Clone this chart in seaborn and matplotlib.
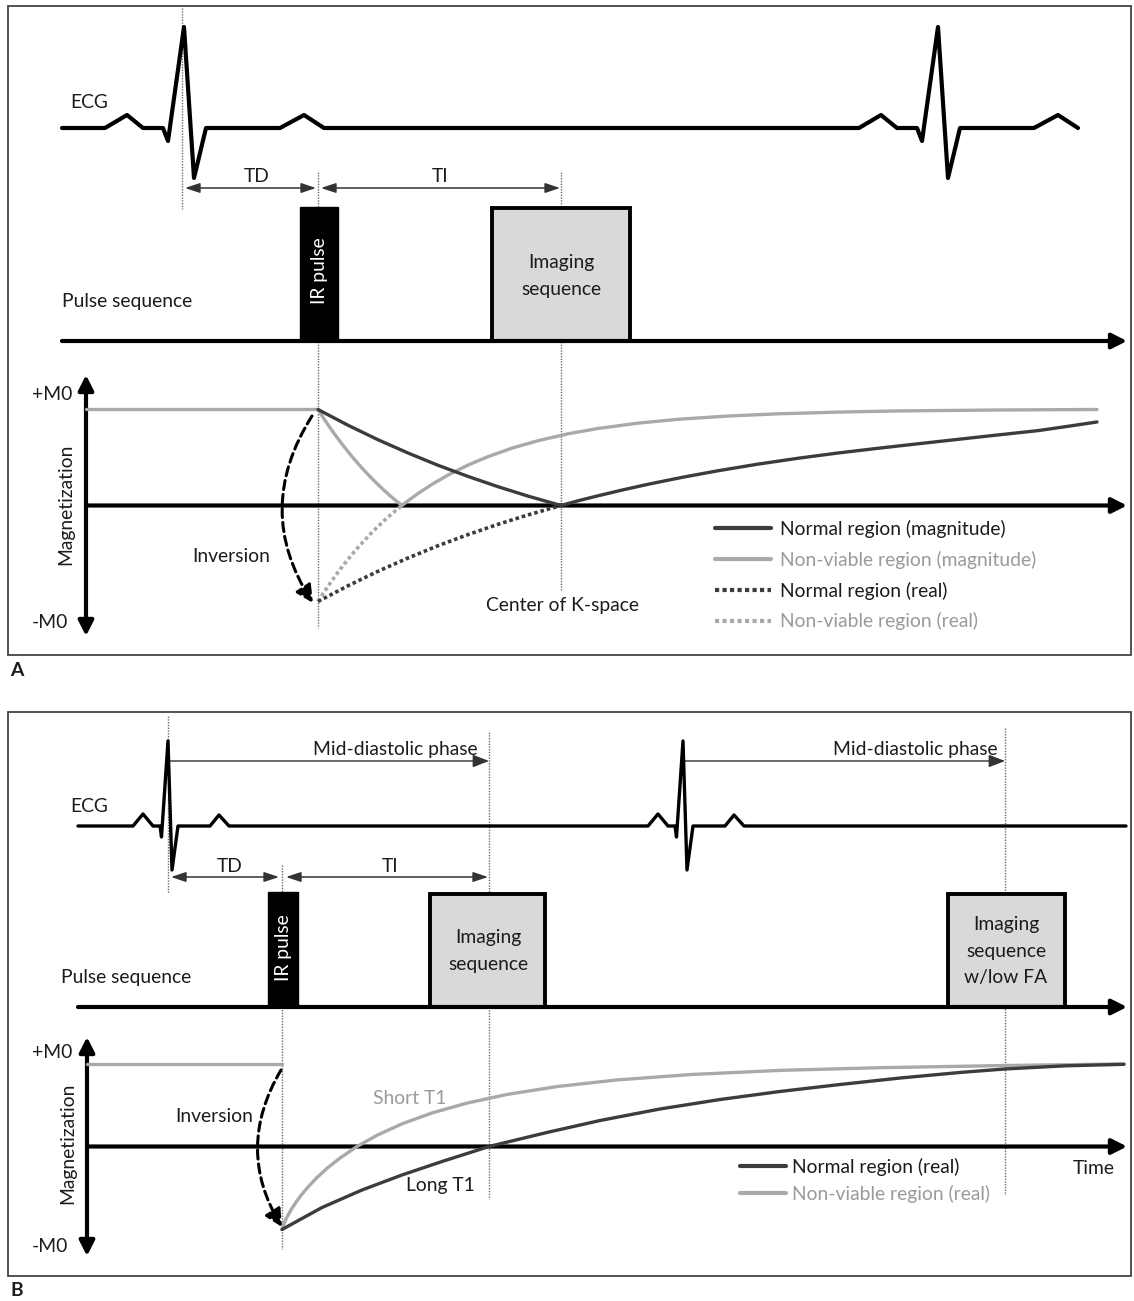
import numpy as np
import pandas as pd
import matplotlib
matplotlib.use("Agg")
import matplotlib.pyplot as plt
from matplotlib import font_manager as fm
from matplotlib.textpath import TextPath
from matplotlib.patches import Rectangle, FancyArrowPatch
import seaborn as sns

# ---------------- data ----------------
# ECG beat template: time offset from the R peak, amplitude (arbitrary units)
ecg_a_dt = [-79, -57, -41, -21, -16, 0, 10, 22, 96, 120, 140]
ecg_a_amp = [0, 13, 0, 0, -13, 101, -50, 0, 0, 13, 0]
ecg_a_r = [184, 938]
ecg_a_span = [62, 1078]

ecg_b_dt = [-35, -25, -15, -8, -6.5, 0, 4, 10, 42, 51, 61]
ecg_b_amp = [0, 12, 0, 0, -11, 85, -44, 0, 0, 11, 0]
ecg_b_r = [168, 683]
ecg_b_span = [78, 1126]

# Panel A magnetization: time after IR pulse, M / M0
a_pre_t = [-232, 0]
a_pre_m = [1, 1]
a_norm_mag_t = [0, 30, 60, 90, 120, 150, 180, 210, 243, 260, 280, 305, 330, 365, 400, 440,
                480, 520, 560, 600, 640, 680, 720, 750, 779]
a_norm_mag_m = [1, 0.836, 0.685, 0.547, 0.419, 0.303, 0.196, 0.098, 0, 0.049, 0.101, 0.163,
                0.221, 0.295, 0.362, 0.431, 0.492, 0.547, 0.596, 0.643, 0.689, 0.735, 0.78,
                0.825, 0.87]
a_nv_mag_t = [0, 5, 10, 15, 20, 25, 30, 37, 45, 52, 60, 66, 72, 78, 84, 90, 100, 115, 130, 150,
              170, 195, 220, 250, 280, 320, 360, 410, 460, 520, 580, 682, 779]
a_nv_mag_m = [1, 0.919, 0.841, 0.767, 0.695, 0.627, 0.561, 0.473, 0.379, 0.301, 0.218, 0.159,
              0.103, 0.050, 0, 0.049, 0.125, 0.227, 0.317, 0.421, 0.509, 0.601, 0.675, 0.747,
              0.802, 0.858, 0.898, 0.932, 0.955, 0.973, 0.985, 0.995, 1.0]
a_norm_real_t = [0, 30, 60, 90, 120, 150, 180, 210, 243]
a_norm_real_m = [-1, -0.836, -0.685, -0.547, -0.419, -0.303, -0.196, -0.098, 0]
a_nv_real_t = [0, 5, 10, 15, 20, 25, 30, 37, 45, 52, 60, 66, 72, 78, 84]
a_nv_real_m = [-1, -0.919, -0.841, -0.767, -0.695, -0.627, -0.561, -0.473, -0.379, -0.301,
               -0.218, -0.159, -0.103, -0.050, 0]

# Panel B magnetization (real)
b_pre_t = [-195, 0]
b_pre_m = [1, 1]
b_norm_t = [0, 40, 80, 120, 160, 207, 265, 318, 378, 438, 498, 558, 618, 678, 723, 783, 842]
b_norm_m = [-1, -0.735, -0.524, -0.343, -0.181, 0, 0.169, 0.313, 0.452, 0.566, 0.663, 0.747,
            0.825, 0.892, 0.934, 0.972, 0.99]
b_nv_t = [0, 3, 6, 10, 15, 20, 27, 35, 45, 58, 75, 95, 120, 150, 185, 225, 275, 335, 410, 500,
          600, 720, 842]
b_nv_m = [-1, -0.899, -0.827, -0.744, -0.654, -0.574, -0.475, -0.374, -0.263, -0.139, 0,
          0.135, 0.273, 0.404, 0.523, 0.627, 0.722, 0.802, 0.868, 0.918, 0.950, 0.975, 0.995]

legend_a_labels = ["Normal region (magnitude)", "Non-viable region (magnitude)",
                   "Normal region (real)", "Non-viable region (real)"]
legend_b_labels = ["Normal region (real)", "Non-viable region (real)"]

# ---------------- style ----------------
sns.set_theme(style="white")

# choose the installed sans face whose width/cap-height ratio is closest to the reference
REF_W, REF_CAP = 226.0, 14.0
bases = ["DejaVu Sans", "Liberation Sans", "Noto Sans", "Roboto", "Open Sans", "Lato", "Inter"]
bad = ["Mono", "CJK", "Math", "Symbol", "Display", "Serif"]
best = None
for f in fm.fontManager.ttflist:
    if f.style != "normal" or f.weight not in (400, "normal", "regular"):
        continue
    if not any(f.name.startswith(b) for b in bases) or any(k in f.name for k in bad):
        continue
    if not (f.name in bases or "Condensed" in f.name or "Narrow" in f.name
            or str(f.stretch) != "normal"):
        continue
    try:
        prop = fm.FontProperties(fname=f.fname)
        wd = TextPath((0, 0), "Normal region (magnitude)", size=100, prop=prop).get_extents().width
        cp = TextPath((0, 0), "H", size=100, prop=prop).get_extents().height
    except Exception:
        continue
    score = abs(np.log((wd / cp) / (REF_W / REF_CAP)))
    if best is None or score < best[0]:
        best = (score, f.name, str(f.stretch))
FONT, STRETCH = ("Roboto", "normal") if best is None else (best[1], best[2])
plt.rcParams["font.family"] = [FONT, "DejaVu Sans"]
plt.rcParams["font.stretch"] = STRETCH
has_bold = any(f.name == FONT and str(f.weight) in ("700", "bold", "600", "semibold")
               for f in fm.fontManager.ttflist)
LABEL_FONT = [FONT] if has_bold else ["DejaVu Sans"]

DARK = "#3c3c3c"
GRAY = "#a9a9a9"
TXT = "#1c1c1c"
TXT_GRAY = "#9a9a9a"

W, H = 1134, 1301
fig = plt.figure(figsize=(W / 100, H / 100), dpi=100)
fig.patch.set_facecolor("white")

renderer = fig.canvas.get_renderer()
_probe = fig.text(0, 0, "Normal region (magnitude)", fontsize=10)
_w = _probe.get_window_extent(renderer=renderer).width
_probe.remove()
FS = 10 * REF_W / _w
FS_PX = FS * 100 / 72.0

ax = fig.add_axes([0, 0, 1, 1])
ax.set_xlim(0, W)
ax.set_ylim(H, 0)
ax.axis("off")


def px_axes(x0, x1, ytop, ybot, xlim, ylim):
    a = fig.add_axes([x0 / W, 1 - ybot / H, (x1 - x0) / W, (ybot - ytop) / H])
    a.set_xlim(*xlim)
    a.set_ylim(*ylim)
    a.axis("off")
    return a


def arrow(p0, p1, style, ms, lw, color="black", ls="-", rad=0.0, z=3):
    p = FancyArrowPatch(p0, p1, arrowstyle=style, mutation_scale=ms, lw=lw, color=color,
                        shrinkA=0, shrinkB=0, linestyle=ls,
                        connectionstyle=f"arc3,rad={rad}", zorder=z)
    ax.add_patch(p)


def guide(x, y0, y1):
    ax.plot([x, x], [y0, y1], color="#6a6a6a", lw=1.0, ls=(0, (1, 1)), zorder=1)


def txt(x, y, s, ha="center", va="center", color=TXT, **kw):
    ax.text(x, y, s, ha=ha, va=va, color=color, fontsize=FS, **kw)


def ecg_df(dt, amp, rpk, span):
    xs, ys = [span[0]], [0]
    for r in rpk:
        xs += [r + d for d in dt]
        ys += list(amp)
    if span[1] > xs[-1]:
        xs.append(span[1])
        ys.append(0)
    return pd.DataFrame({"t": xs, "v": ys})


def place_legend(leg, x_left, y_row1):
    fig.canvas.draw()
    r = fig.canvas.get_renderer()
    tb = leg.get_texts()[0].get_window_extent(renderer=r)
    lb = leg.get_lines()[0].get_window_extent(renderer=r)
    cur_y = H - (tb.y0 + tb.y1) / 2
    cur_x = lb.x0
    bx, by = leg._anchor_px
    nx, ny = bx + (x_left - cur_x), by + (y_row1 - cur_y)
    leg.set_bbox_to_anchor((nx, ny), transform=ax.transData)
    leg._anchor_px = (nx, ny)


AX_HEAD = "-|>,head_length=0.75,head_width=0.38"
AX_HEAD2 = "<|-|>,head_length=0.75,head_width=0.38"
DIM = "<|-|>,head_length=0.9,head_width=0.3"
BOX_LS = 1.65

# ======================= Panel A =======================
ax.add_patch(Rectangle((8, 6), 1123, 649, fill=False, ec="#444444", lw=1.3, zorder=0))
ax.text(10, 670, "A", ha="left", va="center", fontsize=FS, fontweight="bold", color=TXT,
        family=LABEL_FONT)

axe = px_axes(0, W, 0, 200, (0, W), (128 - 200, 128))
sns.lineplot(data=ecg_df(ecg_a_dt, ecg_a_amp, ecg_a_r, ecg_a_span), x="t", y="v", ax=axe,
             color="black", lw=3.0, estimator=None, sort=False, legend=False)
txt(70, 103, "ECG", ha="left")

guide(182, 8, 209)
guide(318, 172, 628)
guide(561, 172, 590)
arrow((185, 188), (316, 188), DIM, 10, 1.1, color="#333333")
arrow((321, 188), (560, 188), DIM, 10, 1.1, color="#333333")
txt(257, 177, "TD")
txt(440, 177, "TI")

ax.add_patch(Rectangle((300, 207), 38, 134, fc="black", ec="black", lw=1, zorder=2))
ax.text(319, 271, "IR pulse", rotation=90, ha="center", va="center", color="white",
        fontsize=FS, zorder=4)
ax.add_patch(Rectangle((492, 208), 138, 133, fc="#d9d9d9", ec="black", lw=2.8, zorder=2))
txt(561, 276, "Imaging\nsequence", linespacing=BOX_LS)
txt(62, 302, "Pulse sequence", ha="left")
arrow((62, 341), (1127, 341), AX_HEAD, 12, 3.0)

arrow((86, 636), (86, 375), AX_HEAD2, 12, 3.0)
arrow((86, 505.5), (1127, 505.5), AX_HEAD, 12, 3.0)
txt(52, 395, "+M0")
txt(50, 622, "-M0")
ax.text(66, 504, "Magnetization", rotation=90, ha="center", va="center", color=TXT, fontsize=FS)
txt(231, 557, "Inversion")
txt(562, 606, "Center of K-space")
arrow((312, 416), (313, 603), "-|>,head_length=0.8,head_width=0.4", 13, 2.2,
      ls=(0, (3, 1.6)), rad=0.32)

axm = px_axes(0, W, 360, 650, (-318, W - 318), ((505.5 - 650) / 96, (505.5 - 360) / 96))
sns.lineplot(x=a_pre_t, y=a_pre_m, ax=axm, color=GRAY, lw=2.4, estimator=None, sort=False)
sns.lineplot(x=a_nv_real_t, y=a_nv_real_m, ax=axm, color=GRAY, lw=2.6, ls=(0, (1, 0.8)),
             estimator=None, sort=False)
h4 = axm.lines[-1]
sns.lineplot(x=a_norm_real_t, y=a_norm_real_m, ax=axm, color=DARK, lw=2.6, ls=(0, (1, 0.8)),
             estimator=None, sort=False)
h3 = axm.lines[-1]
sns.lineplot(x=a_nv_mag_t, y=a_nv_mag_m, ax=axm, color=GRAY, lw=2.4, estimator=None, sort=False)
h2 = axm.lines[-1]
sns.lineplot(x=a_norm_mag_t, y=a_norm_mag_m, ax=axm, color=DARK, lw=2.4, estimator=None,
             sort=False)
h1 = axm.lines[-1]

leg_a = ax.legend(handles=[h1, h2, h3, h4], labels=legend_a_labels, loc="upper left",
                  bbox_to_anchor=(715, 515), bbox_transform=ax.transData, frameon=False,
                  borderpad=0, borderaxespad=0, handlelength=56 / FS_PX,
                  handletextpad=9 / FS_PX, labelspacing=0.66, fontsize=FS)
leg_a._anchor_px = (715, 515)
for t, c in zip(leg_a.get_texts(), [TXT, TXT_GRAY, TXT, TXT_GRAY]):
    t.set_color(c)
for l in leg_a.get_lines():
    l.set_linewidth(3.0)
ax.add_artist(leg_a)

# ======================= Panel B =======================
ax.add_patch(Rectangle((8, 712), 1123, 564, fill=False, ec="#444444", lw=1.3, zorder=0))
ax.text(10, 1290, "B", ha="left", va="center", fontsize=FS, fontweight="bold", color=TXT,
        family=LABEL_FONT)

axe2 = px_axes(0, W, 700, 900, (0, W), (826 - 900, 826 - 700))
sns.lineplot(data=ecg_df(ecg_b_dt, ecg_b_amp, ecg_b_r, ecg_b_span), x="t", y="v", ax=axe2,
             color="black", lw=2.4, estimator=None, sort=False, legend=False)
txt(70, 807, "ECG", ha="left")

guide(168, 716, 893)
guide(282, 865, 1249)
guide(489, 732, 1199)
guide(1005, 728, 1195)
arrow((168, 761), (489, 761), "-|>,head_length=0.9,head_width=0.35", 11, 1.0, color="#333333")
arrow((683, 761), (1005, 761), "-|>,head_length=0.9,head_width=0.35", 11, 1.0, color="#333333")
txt(478, 749, "Mid-diastolic phase", ha="right")
txt(998, 749, "Mid-diastolic phase", ha="right")
arrow((171, 877), (279, 877), DIM, 10, 1.1, color="#333333")
arrow((286, 877), (488, 877), DIM, 10, 1.1, color="#333333")
txt(230, 866, "TD")
txt(390, 866, "TI")

ax.add_patch(Rectangle((268, 892), 30, 115, fc="black", ec="black", lw=1, zorder=2))
ax.text(283, 948, "IR pulse", rotation=90, ha="center", va="center", color="white",
        fontsize=FS, zorder=4)
ax.add_patch(Rectangle((430, 894), 115, 113, fc="#d9d9d9", ec="black", lw=2.8, zorder=2))
txt(488, 951, "Imaging\nsequence", linespacing=BOX_LS)
ax.add_patch(Rectangle((948, 894), 117, 113, fc="#d9d9d9", ec="black", lw=2.8, zorder=2))
txt(1006, 951, "Imaging\nsequence\nw/low FA", linespacing=BOX_LS)
txt(61, 977, "Pulse sequence", ha="left")
arrow((78, 1007), (1127, 1007), AX_HEAD, 12, 3.0)

arrow((87, 1256), (87, 1037), AX_HEAD2, 12, 3.0)
arrow((87, 1146.5), (1127, 1146.5), AX_HEAD, 12, 3.0)
txt(52, 1052, "+M0")
txt(50, 1247, "-M0")
ax.text(68, 1143, "Magnetization", rotation=90, ha="center", va="center", color=TXT, fontsize=FS)
txt(214, 1116, "Inversion")
txt(410, 1099, "Short T1", color=TXT_GRAY)
txt(440, 1185, "Long T1")
txt(1094, 1168, "Time")
arrow((281, 1070), (282, 1227), "-|>,head_length=0.8,head_width=0.4", 13, 2.2,
      ls=(0, (3, 1.6)), rad=0.30)

axm2 = px_axes(0, W, 1040, 1270, (-282, W - 282), ((1146.5 - 1270) / 83, (1146.5 - 1040) / 83))
sns.lineplot(x=b_pre_t, y=b_pre_m, ax=axm2, color=GRAY, lw=2.4, estimator=None, sort=False)
sns.lineplot(x=b_nv_t, y=b_nv_m, ax=axm2, color=GRAY, lw=2.4, estimator=None, sort=False)
g2 = axm2.lines[-1]
sns.lineplot(x=b_norm_t, y=b_norm_m, ax=axm2, color=DARK, lw=2.4, estimator=None, sort=False)
g1 = axm2.lines[-1]

leg_b = ax.legend(handles=[g1, g2], labels=legend_b_labels, loc="upper left",
                  bbox_to_anchor=(740, 1155), bbox_transform=ax.transData, frameon=False,
                  borderpad=0, borderaxespad=0, handlelength=46 / FS_PX,
                  handletextpad=6 / FS_PX, labelspacing=0.44, fontsize=FS)
leg_b._anchor_px = (740, 1155)
for t, c in zip(leg_b.get_texts(), [TXT, TXT_GRAY]):
    t.set_color(c)
for l in leg_b.get_lines():
    l.set_linewidth(3.0)

place_legend(leg_a, 715, 529)
place_legend(leg_b, 740, 1167)

fig.savefig("out.png", dpi=100, facecolor="white")
